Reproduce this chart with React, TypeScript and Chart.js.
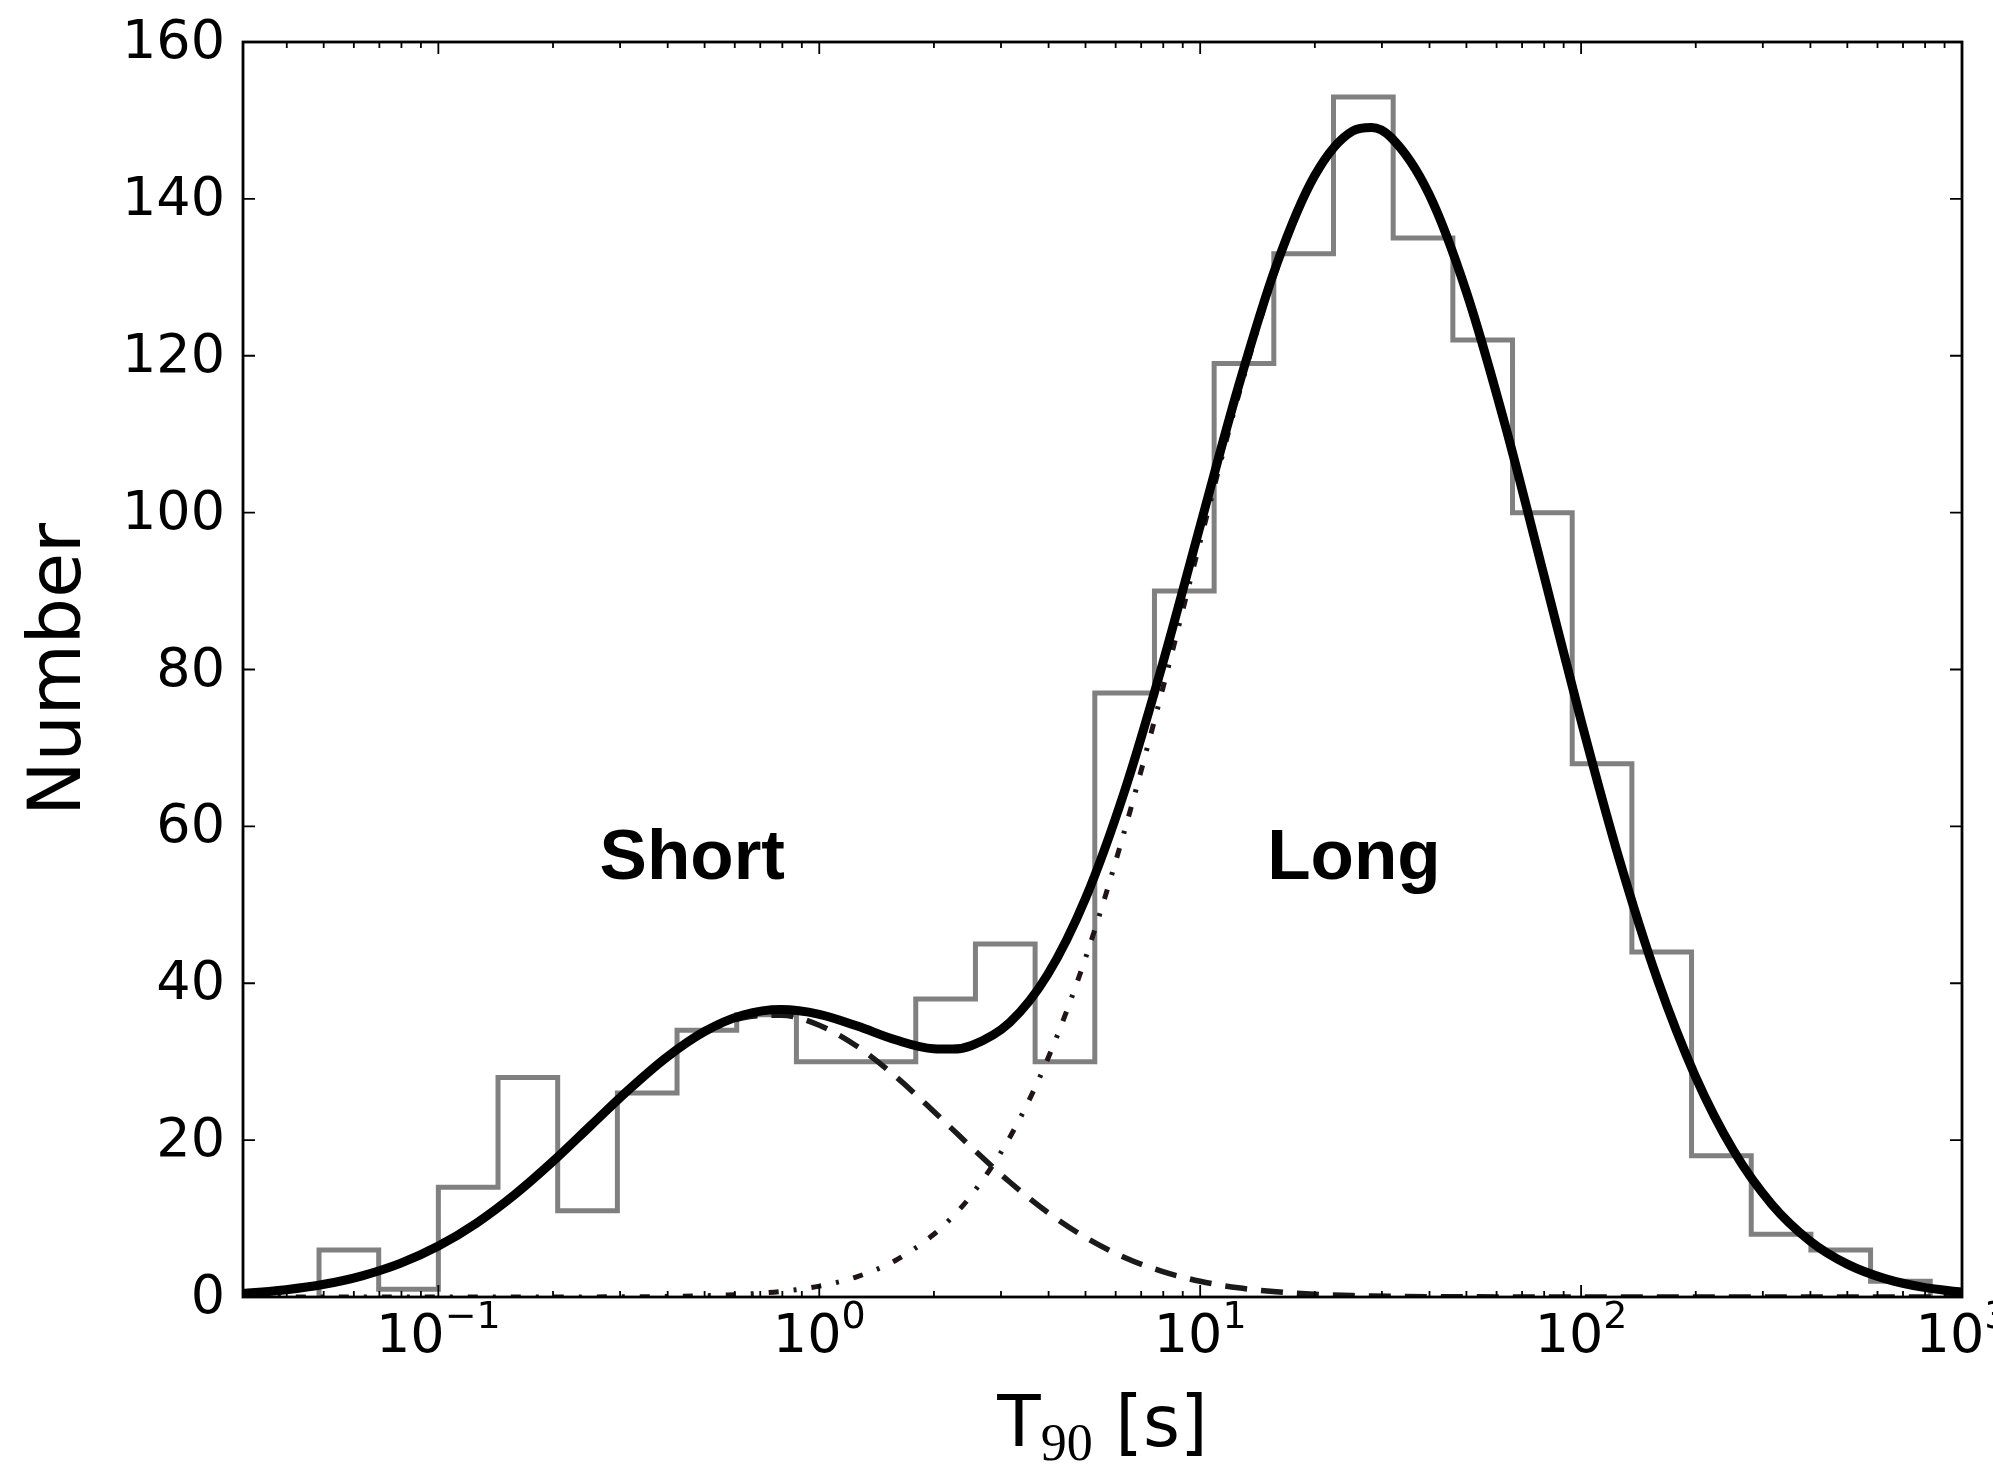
import React, { useEffect, useRef } from 'react';
import { Chart, registerables } from 'chart.js';

Chart.register(...registerables);

// ---------------- data ----------------
// histogram bin edges, T90 in seconds (log-spaced bins)
const binEdges = [
  0.04861, 0.06972, 0.1, 0.14343, 0.20573, 0.29512, 0.42329, 0.60716, 0.87096,
  1.2492, 1.792, 2.5704, 3.6869, 5.2884, 7.5858, 10.881, 15.607, 22.387, 32.112,
  46.06, 66.069, 94.77, 135.94, 194.98, 279.7, 401.2, 575.4, 825.4,
];
// counts per bin
const binCounts = [
  6, 1, 14, 28, 11, 26, 34, 36, 30, 30, 38, 45, 30, 77, 90, 119, 133, 153, 135,
  122, 100, 68, 44, 18, 8, 6, 2,
];

// fitted curves, sampled at log10(T90) positions
const curveLogT = [
  -1.6, -1.5, -1.4, -1.3, -1.2, -1.1, -1.0, -0.9, -0.8, -0.7, -0.6, -0.5, -0.4,
  -0.3, -0.2, -0.1, 0.0, 0.1, 0.2, 0.3, 0.35, 0.4, 0.5, 0.6, 0.7, 0.8, 0.9, 1.0,
  1.1, 1.2, 1.3, 1.4, 1.45, 1.5, 1.6, 1.7, 1.8, 1.9, 2.0, 2.1, 2.2, 2.3, 2.4, 2.5,
  2.6, 2.7, 2.8, 2.9, 3.0,
];
const shortComponent = [
  0.27, 0.51, 0.93, 1.62, 2.7, 4.28, 6.49, 9.41, 13.03, 17.25, 21.84, 26.41,
  30.52, 33.72, 35.6, 35.93, 34.65, 31.94, 28.13, 23.69, 21.37, 19.06, 14.66,
  10.77, 7.57, 5.08, 3.26, 2.0, 1.17, 0.66, 0.35, 0.18, 0.13, 0.09, 0.04, 0.02,
  0.01, 0, 0, 0, 0, 0, 0, 0, 0, 0, 0, 0, 0,
];
const longComponent = [
  0, 0, 0, 0, 0, 0, 0, 0, 0, 0, 0.01, 0.03, 0.07, 0.16, 0.35, 0.71, 1.39, 2.6,
  4.66, 7.96, 10.24, 13.01, 20.34, 30.38, 43.37, 59.2, 77.23, 96.31, 114.83,
  130.87, 142.56, 148.46, 148.97, 147.79, 140.64, 127.95, 111.26, 92.48, 73.49,
  55.83, 40.53, 28.13, 18.67, 11.85, 7.18, 4.16, 2.31, 1.22, 0.62,
];
const totalFit = [
  0.27, 0.51, 0.93, 1.62, 2.7, 4.28, 6.49, 9.41, 13.03, 17.25, 21.85, 26.44,
  30.59, 33.88, 35.95, 36.64, 36.04, 34.54, 32.79, 31.65, 31.61, 32.07, 35.0,
  41.15, 50.94, 64.28, 80.49, 98.31, 116.0, 131.53, 142.91, 148.64, 149.1,
  147.88, 140.68, 127.97, 111.27, 92.48, 73.49, 55.83, 40.53, 28.13, 18.67,
  11.85, 7.18, 4.16, 2.31, 1.22, 0.62,
];

// axes
const xAxisMin = 0.0307;
const xAxisMax = 1000;
const yAxisMin = 0;
const yAxisMax = 160;
const yTickValues = [0, 20, 40, 60, 80, 100, 120, 140, 160];
const xMajorTicks = [0.1, 1, 10, 100, 1000];
const xMajorExponents = ['\u22121', '0', '1', '2', '3'];
const xMinorTicks = [
  0.04, 0.05, 0.06, 0.07, 0.08, 0.09,
  0.2, 0.3, 0.4, 0.5, 0.6, 0.7, 0.8, 0.9,
  2, 3, 4, 5, 6, 7, 8, 9,
  20, 30, 40, 50, 60, 70, 80, 90,
  200, 300, 400, 500, 600, 700, 800, 900,
];
const yAxisTitle = 'Number';
const xAxisTitleMain = 'T';
const xAxisTitleSub = '90';
const xAxisTitleUnit = ' [s]';

// text annotations (data coordinates, left/baseline anchored)
const annotationLabels = ['Short', 'Long'];
const annotationX = [0.265, 15.0];
const annotationY = [53.3, 53.3];

// ---------------- helpers ----------------
const toXY = (xs: number[], ys: number[]) => xs.map((x, i) => ({ x, y: ys[i] }));

function histogramOutline() {
  const pts: { x: number; y: number }[] = [{ x: binEdges[0], y: 0 }];
  for (let i = 0; i < binCounts.length; i++) {
    pts.push({ x: binEdges[i], y: binCounts[i] });
  }
  pts.push({ x: binEdges[binEdges.length - 1], y: 0 });
  return pts;
}

const SANS = '"DejaVu Sans", "Bitstream Vera Sans", sans-serif';

const mplAxesPlugin = {
  id: 'mplAxes',
  afterDatasetsDraw(chart: any) {
    const { ctx, chartArea, scales } = chart;
    const { left, right, top, bottom } = chartArea;
    const xs = scales.x;
    const ys = scales.y;
    ctx.save();

    // annotations
    ctx.fillStyle = '#000';
    ctx.font = 'bold 71px "Liberation Sans", Arial, sans-serif';
    ctx.textAlign = 'left';
    ctx.textBaseline = 'alphabetic';
    annotationLabels.forEach((t, i) => {
      ctx.fillText(t, xs.getPixelForValue(annotationX[i]), ys.getPixelForValue(annotationY[i]));
    });

    // frame
    ctx.strokeStyle = '#000';
    ctx.lineWidth = 2.8;
    ctx.strokeRect(left, top, right - left, bottom - top);

    // ticks (inward, all four sides)
    const MAJ = 12;
    const MIN = 6;
    ctx.lineWidth = 1.8;
    ctx.beginPath();
    yTickValues.forEach((v) => {
      const py = ys.getPixelForValue(v);
      ctx.moveTo(left, py);
      ctx.lineTo(left + MAJ, py);
      ctx.moveTo(right, py);
      ctx.lineTo(right - MAJ, py);
    });
    xMajorTicks.forEach((v) => {
      const px = xs.getPixelForValue(v);
      ctx.moveTo(px, bottom);
      ctx.lineTo(px, bottom - MAJ);
      ctx.moveTo(px, top);
      ctx.lineTo(px, top + MAJ);
    });
    xMinorTicks.forEach((v) => {
      const px = xs.getPixelForValue(v);
      if (px < left || px > right) return;
      ctx.moveTo(px, bottom);
      ctx.lineTo(px, bottom - MIN);
      ctx.moveTo(px, top);
      ctx.lineTo(px, top + MIN);
    });
    ctx.stroke();

    // y tick labels
    ctx.fillStyle = '#000';
    ctx.font = `54px ${SANS}`;
    ctx.textAlign = 'right';
    ctx.textBaseline = 'middle';
    yTickValues.forEach((v) => {
      ctx.fillText(String(v), left - 18, ys.getPixelForValue(v) + 2);
    });

    // x tick labels: 10^n
    ctx.textAlign = 'left';
    ctx.textBaseline = 'alphabetic';
    const baseSize = 54;
    const expSize = 38;
    const baseY = bottom + 55;
    xMajorTicks.forEach((v, i) => {
      const px = xs.getPixelForValue(v);
      ctx.font = `${baseSize}px ${SANS}`;
      const wBase = ctx.measureText('10').width;
      ctx.font = `${expSize}px ${SANS}`;
      const wExp = ctx.measureText(xMajorExponents[i]).width;
      const x0 = px - (wBase + wExp) / 2;
      ctx.font = `${baseSize}px ${SANS}`;
      ctx.fillText('10', x0, baseY);
      ctx.font = `${expSize}px ${SANS}`;
      ctx.fillText(xMajorExponents[i], x0 + wBase, baseY - 24);
    });

    // x axis title: T_90 [s]
    const titleSize = 71;
    const subSize = 52;
    const titleBase = 1446;
    ctx.font = `${titleSize}px ${SANS}`;
    const wT = ctx.measureText(xAxisTitleMain).width;
    const wU = ctx.measureText(xAxisTitleUnit).width;
    ctx.font = `${subSize}px "Liberation Serif", "DejaVu Serif", serif`;
    const wS = ctx.measureText(xAxisTitleSub).width;
    const cx = (left + right) / 2;
    let tx = cx - (wT + wS + wU) / 2;
    ctx.font = `${titleSize}px ${SANS}`;
    ctx.fillText(xAxisTitleMain, tx, titleBase);
    tx += wT;
    ctx.font = `${subSize}px "Liberation Serif", "DejaVu Serif", serif`;
    ctx.fillText(xAxisTitleSub, tx, titleBase + 14);
    tx += wS;
    ctx.font = `${titleSize}px ${SANS}`;
    ctx.fillText(xAxisTitleUnit, tx, titleBase);

    // y axis title
    ctx.save();
    ctx.translate(61, (top + bottom) / 2);
    ctx.rotate(-Math.PI / 2);
    ctx.font = `73px ${SANS}`;
    ctx.textAlign = 'center';
    ctx.textBaseline = 'middle';
    ctx.fillText(yAxisTitle, 0, 0);
    ctx.restore();

    ctx.restore();
  },
};

export default function App() {
  const canvasRef = useRef<HTMLCanvasElement | null>(null);

  useEffect(() => {
    const canvas = canvasRef.current;
    if (!canvas) return;
    const xT = curveLogT.map((l) => Math.pow(10, l));

    const chart = new Chart(canvas, {
      type: 'line',
      data: {
        datasets: [
          {
            label: 'Total fit',
            data: toXY(xT, totalFit),
            borderColor: '#000',
            borderWidth: 9,
            pointRadius: 0,
            cubicInterpolationMode: 'monotone',
            fill: false,
            clip: 0,
            order: 0,
          },
          {
            label: 'Short',
            data: toXY(xT, shortComponent),
            borderColor: '#1a1a1a',
            borderWidth: 5.5,
            borderDash: [22, 14],
            pointRadius: 0,
            cubicInterpolationMode: 'monotone',
            fill: false,
            clip: 0,
            order: 1,
          },
          {
            label: 'Long',
            data: toXY(xT, longComponent),
            borderColor: '#201414',
            borderWidth: 5,
            borderDash: [10, 15, 3, 15],
            pointRadius: 0,
            cubicInterpolationMode: 'monotone',
            fill: false,
            clip: 0,
            order: 2,
          },
          {
            label: 'Histogram',
            data: histogramOutline(),
            borderColor: '#808080',
            borderWidth: 5,
            pointRadius: 0,
            stepped: 'before',
            tension: 0,
            fill: false,
            clip: 0,
            order: 3,
          },
        ] as any,
      },
      options: {
        animation: false,
        responsive: false,
        maintainAspectRatio: false,
        devicePixelRatio: 1,
        layout: { padding: { left: 243, top: 42, right: 31, bottom: 167 } },
        plugins: {
          legend: { display: false },
          tooltip: { enabled: false },
          title: { display: false },
        },
        scales: {
          x: { type: 'logarithmic', min: xAxisMin, max: xAxisMax, display: false },
          y: { type: 'linear', min: yAxisMin, max: yAxisMax, display: false },
        },
      } as any,
      plugins: [mplAxesPlugin],
    });

    return () => chart.destroy();
  }, []);

  return (
    <div style={{ position: 'fixed', left: 0, top: 0, width: 1993, height: 1464, background: '#fff' }}>
      <canvas ref={canvasRef} width={1993} height={1464} style={{ width: 1993, height: 1464, display: 'block' }} />
    </div>
  );
}
